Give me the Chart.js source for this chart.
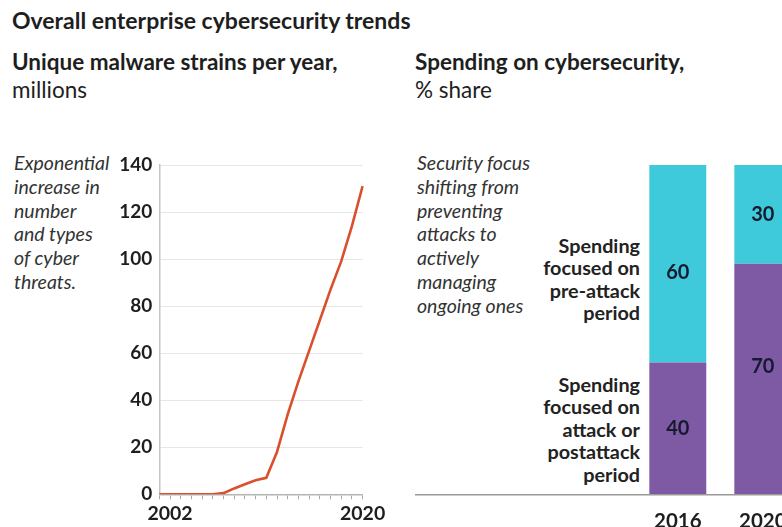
<!DOCTYPE html>
<html>
<head>
<meta charset="utf-8">
<script src="https://cdn.jsdelivr.net/npm/chart.js@4"></script>
<style>
  html, body { margin: 0; padding: 0; background: #fff; }
  body { width: 782px; height: 527px; overflow: hidden; position: relative; font-family: Lato, sans-serif; color: #1e1e1e; }
  .txt { position: absolute; white-space: nowrap; }
  .title { left: 12px; top: 6px; font-size: 23px; font-weight: 700; line-height: 28px; }
  .sub { top: 48px; font-size: 22.5px; line-height: 28px; }
  .sub b { font-weight: 700; }
  .note { top: 151px; font-size: 19.5px; font-style: italic; line-height: 23.8px; color: #333; }
  .lab { font-size: 19.8px; font-weight: 700; line-height: 22.4px; text-align: right; right: 142px; color: #222; }
  canvas { position: absolute; }
</style>
</head>
<body>
<div class="txt title">Overall enterprise cybersecurity trends</div>
<div class="txt sub" style="left:12px"><b>Unique malware strains per year,</b><br>millions</div>
<div class="txt sub" style="left:415px"><b>Spending on cybersecurity,</b><br>% share</div>
<div class="txt note" style="left:14px">Exponential<br>increase in<br>number<br>and types<br>of cyber<br>threats.</div>
<div class="txt note" style="left:417px">Security focus<br>shifting from<br>preventing<br>attacks to<br>actively<br>managing<br>ongoing ones</div>
<div class="txt lab" style="top:234px">Spending<br>focused on<br>pre-attack<br>period</div>
<div class="txt lab" style="top:373px">Spending<br>focused on<br>attack or<br>postattack<br>period</div>

<canvas id="malware" width="290" height="387" style="left:100px;top:140px"></canvas>
<canvas id="spending" width="420" height="387" style="left:400px;top:140px"></canvas>

<script>
// malware strains per year, millions
const malwareYears = ['2001', '2002', '2003', '2004', '2005', '2006', '2007', '2008', '2009', '2010',
  '2011', '2012', '2013', '2014', '2015', '2016', '2017', '2018', '2019', '2020'];
const malwareValues = [0, 0, 0, 0, 0, 0, 0.5, 2.5, 4.3, 6, 7, 18, 34, 48, 61, 74, 87, 99, 114, 131];
const malwareYLabels = [0, 20, 40, 60, 80, 100, 120, 140];
const malwareXLabels = ['2002', '2020'];

// spending share, %
const spendYears = ['2016', '2020'];
const attackShare = [40, 70];
const preAttackShare = [60, 30];

const tickFont = { family: 'Lato', size: 19, weight: 'bold' };
const inkColor = '#1e1e1e';

new Chart(document.getElementById('malware'), {
  type: 'line',
  data: {
    labels: malwareYears,
    datasets: [{
      data: malwareValues,
      borderColor: '#d9502c',
      borderWidth: 2.6,
      pointRadius: 0,
      tension: 0,
      fill: false
    }]
  },
  options: {
    responsive: false,
    animation: false,
    layout: { padding: { top: 25, right: 27.4, left: 0, bottom: 0 } },
    plugins: { legend: { display: false }, tooltip: { enabled: false } },
    scales: {
      x: {
        offset: false,
        border: { color: '#b5b5b5', width: 1.5 },
        grid: { drawOnChartArea: false, drawTicks: true, tickLength: 5, color: '#a8a8a8', lineWidth: 1 },
        ticks: {
          autoSkip: false,
          maxRotation: 0,
          padding: 3,
          color: inkColor,
          font: { family: 'Lato', size: 19.5, weight: 'bold' },
          callback: function (v) {
            const lab = this.getLabelForValue(v);
            return malwareXLabels.includes(lab) ? lab : '';
          }
        },
        afterFit: s => { s.height = 32.7; }
      },
      y: {
        min: 0,
        max: 140,
        border: { color: '#c4c4c4', width: 1.5 },
        grid: { drawTicks: false, color: '#e6e6e6', lineWidth: 1 },
        ticks: {
          padding: 7,
          color: inkColor,
          font: tickFont,
          stepSize: 20,
          callback: v => malwareYLabels.includes(v) ? v : ''
        },
        afterFit: s => { s.width = 59.3; }
      }
    }
  },
  plugins: [{
    id: 'dashGrid',
    beforeDraw(chart) {
      chart.options.scales.y.grid.borderDash = [2, 2];
    }
  }]
});

// value labels inside stacked bars
const barLabels = {
  id: 'barLabels',
  afterDatasetsDraw(chart) {
    const ctx = chart.ctx;
    ctx.save();
    ctx.font = 'bold 20px Lato';
    ctx.fillStyle = '#151a2e';
    ctx.textAlign = 'center';
    ctx.textBaseline = 'middle';
    chart.data.datasets.forEach((ds, di) => {
      chart.getDatasetMeta(di).data.forEach((bar, i) => {
        const dy = (ds.labelDy && ds.labelDy[i]) || 0;
        ctx.fillText(ds.data[i], bar.x, (bar.y + bar.base) / 2 + dy);
      });
    });
    ctx.restore();
  }
};

// baseline running from the notes to the edge
const baseLine = {
  id: 'baseLine',
  afterDraw(chart) {
    const ctx = chart.ctx;
    const y = chart.chartArea.bottom + 0.5;
    ctx.save();
    ctx.strokeStyle = '#9a9a9a';
    ctx.lineWidth = 1.5;
    ctx.beginPath();
    ctx.moveTo(15, y);
    ctx.lineTo(chart.width, y);
    ctx.stroke();
    ctx.restore();
  }
};

new Chart(document.getElementById('spending'), {
  type: 'bar',
  data: {
    labels: spendYears,
    datasets: [
      { data: attackShare, backgroundColor: '#7e5aa5', labelDy: [0, -12.5] },
      { data: preAttackShare, backgroundColor: '#3fcadb', labelDy: [9, 0] }
    ]
  },
  options: {
    responsive: false,
    animation: false,
    barPercentage: 0.67,
    categoryPercentage: 1,
    layout: { padding: { top: 25, left: 235.3, right: 14.7, bottom: 0 } },
    plugins: { legend: { display: false }, tooltip: { enabled: false } },
    scales: {
      x: {
        stacked: true,
        border: { display: false },
        grid: { display: false },
        ticks: { padding: 7, color: inkColor, font: { family: 'Lato', size: 20.5, weight: 'bold' } },
        afterFit: s => { s.height = 32.7; }
      },
      y: { stacked: true, min: 0, max: 100, display: false }
    }
  },
  plugins: [barLabels, baseLine]
});
</script>
</body>
</html>
